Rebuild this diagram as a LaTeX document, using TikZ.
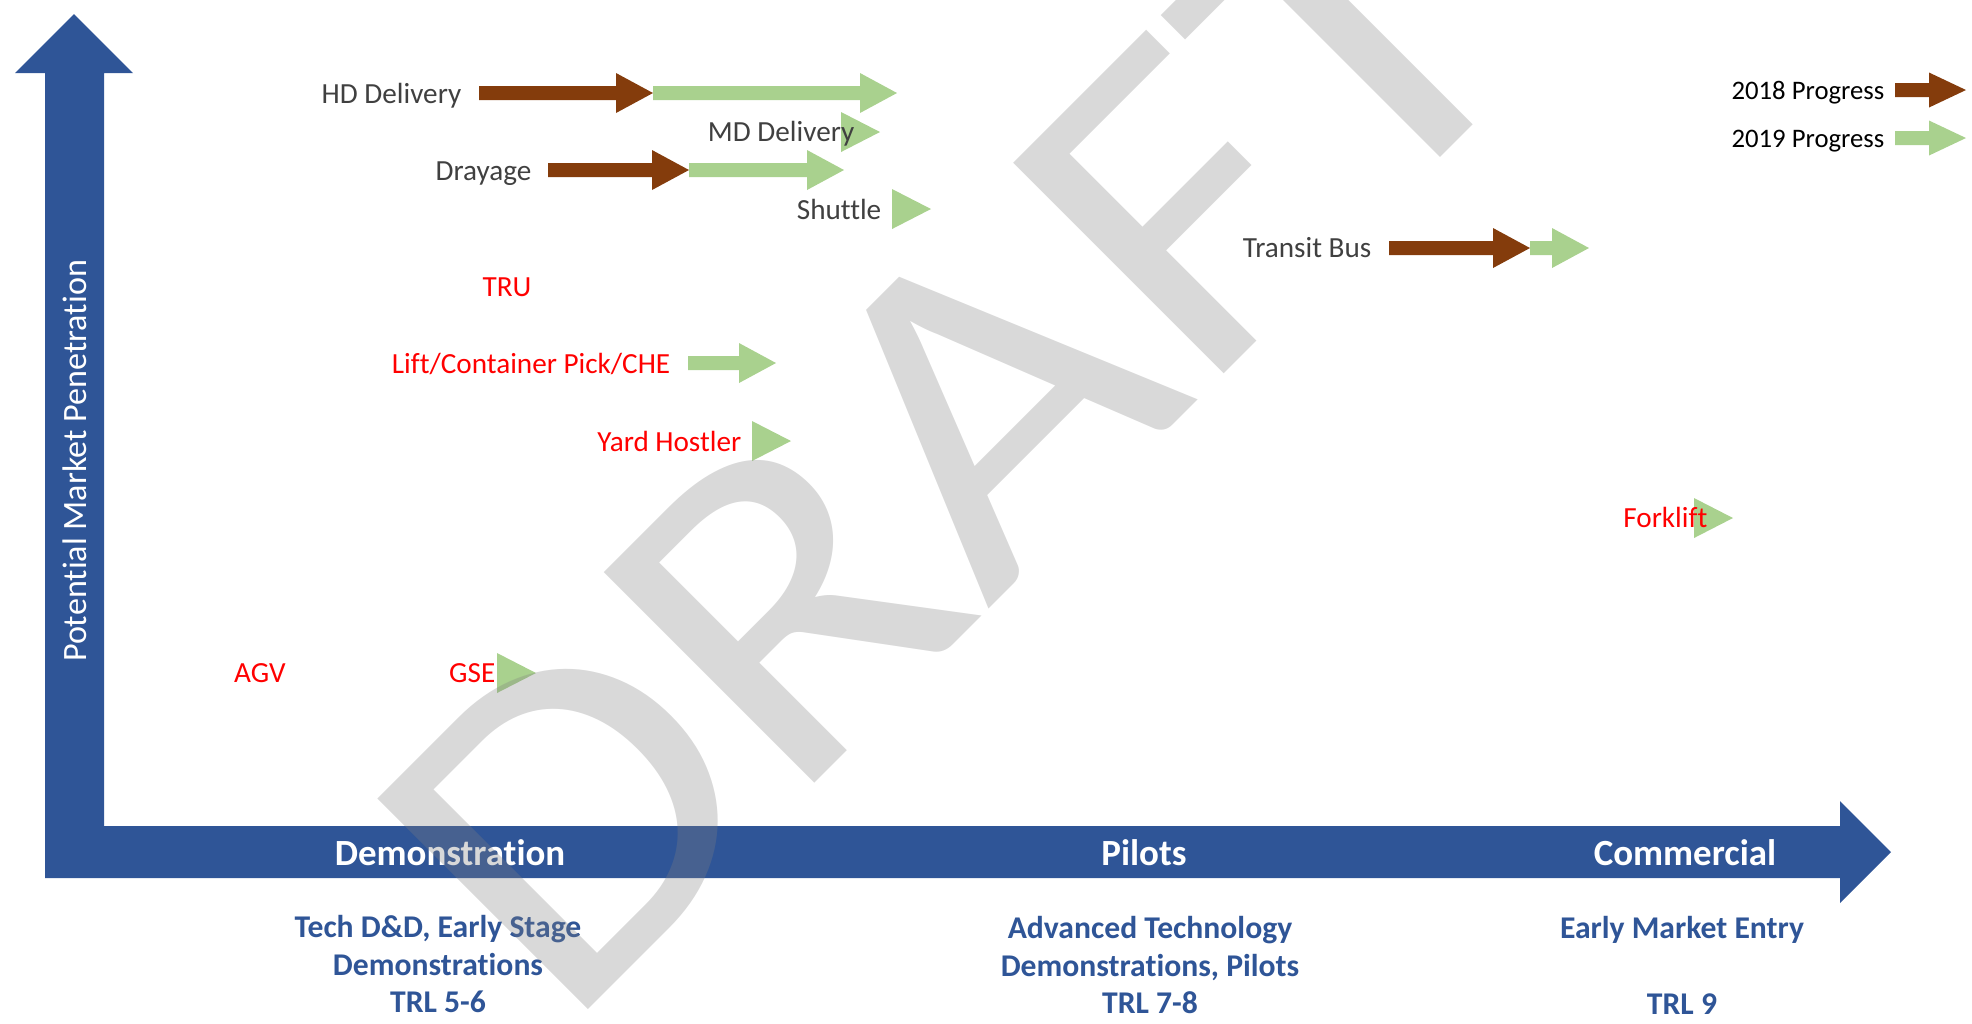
\documentclass[tikz,border=0pt]{standalone}
\usepackage{fontspec}
\setmainfont{Carlito}[Ligatures={NoCommon,NoRequired,NoContextual},Contextuals=NoAlternate]
\definecolor{axisblue}{RGB}{47,85,151}
\definecolor{arrbrown}{RGB}{132,60,12}
\definecolor{arrgreen}{RGB}{169,209,142}
\definecolor{labgray}{RGB}{64,64,64}
% t e i senza legatura
\newcommand{\tnoi}{t\kern0pt i}
% freccia piena: semi-altezza testa, colore, coda, punta, y
\newcommand{\progarrow}[5][20]{%
  \fill[#2] (#3,#5-7) -- (#4-37,#5-7) -- (#4-37,#5-#1) -- (#4,#5)
    -- (#4-37,#5+#1) -- (#4-37,#5+7) -- (#3,#5+7) -- cycle;}
% solo la testa: colore, base, y
\newcommand{\proghead}[3]{%
  \fill[#1] (#2,#3-20) -- (#2+39,#3) -- (#2,#3+20) -- cycle;}
\tikzset{
  lab/.style={font=\fontsize{8.3}{10}\selectfont, text=labgray, inner sep=0pt,
    anchor=east, text height=5.4pt, text depth=0pt},
  redlab/.style={lab, text=red},
  leglab/.style={lab, text=black, font=\fontsize{7.6}{9}\selectfont},
  stage/.style={font=\fontsize{10.5}{12.6}\selectfont\bfseries, text=white, inner sep=0pt},
  stagesub/.style={font=\fontsize{9}{10.8}\selectfont\bfseries, text=axisblue,
    align=center, inner sep=0pt},
}
\begin{document}
\begin{tikzpicture}[x=0.01cm, y=-0.01cm]
      \useasboundingbox (0,0) rectangle (1972,1023);
      %assi
      \fill[axisblue] (45,878) -- (45,73) -- (15,73) -- (74,14) -- (133,73) -- (104,73)
        -- (104,826) -- (1840,826) -- (1840,801) -- (1891,852) -- (1840,903) -- (1840,878) -- cycle;
      \node[rotate=90, text=white, font=\fontsize{9.7}{11.6}\selectfont, inner sep=0pt] (ylab) at (75,461) {Poten\tnoi al Market Penetra\tnoi on};
      \node[stage] (demo) at (450,853) {Demonstra\tnoi on};
      \node[stage] (pilot) at (1144,853) {Pilots};
      \node[stage] (comm) at (1685,853) {Commercial};
      \node[stagesub] (demosub) at (438,964) {Tech D\&D, Early Stage\\Demonstra\tnoi ons\\TRL 5-6};
      \node[stagesub] (pilotsub) at (1150,965) {Advanced Technology\\Demonstra\tnoi ons, Pilots\\TRL 7-8};
      \node[stagesub] (commsub) at (1682,965) {Early Market Entry\\~\\TRL 9};
      %frecce
      \progarrow{arrbrown}{479}{653}{93}
      \progarrow{arrgreen}{653}{897}{93}
      \proghead{arrgreen}{841}{132}
      \progarrow{arrbrown}{548}{689}{170}
      \progarrow{arrgreen}{689}{844}{170}
      \proghead{arrgreen}{892}{209}
      \progarrow{arrbrown}{1389}{1530}{248}
      \progarrow{arrgreen}{1530}{1589}{248}
      \progarrow{arrgreen}{688}{776}{363}
      \proghead{arrgreen}{752}{441}
      \proghead{arrgreen}{497}{673}
      \proghead{arrgreen}{1694}{518}
      %etichette
      \node[lab] (hd) at (462,94) {HD Delivery};
      \node[lab] (md) at (855,132) {MD Delivery};
      \node[lab] (dray) at (532,171) {Drayage};
      \node[lab] (shut) at (882,210) {Shuttle};
      \node[lab] (bus) at (1372,248) {Transit Bus};
      \node[redlab, anchor=center] (tru) at (507,287) {TRU};
      \node[redlab] (lift) at (671,364) {Lift/Container Pick/CHE};
      \node[redlab] (yard) at (742,442) {Yard Hostler};
      \node[redlab] (gse) at (496,673) {GSE};
      \node[redlab, anchor=center] (agv) at (260,673) {AGV};
      \node[redlab] (fork) at (1708,518) {Forklift};
      %legenda
      \progarrow[17.5]{arrbrown}{1895}{1966}{90}
      \progarrow[17.5]{arrgreen}{1895}{1966}{138}
      \node[leglab] (leg18) at (1885,90) {2018 Progress};
      \node[leglab] (leg19) at (1885,138) {2019 Progress};
      %filigrana
      \node[rotate=45, anchor=base, inner sep=0pt, text=black!50, text opacity=0.3,
        font=\fontsize{132}{140}\selectfont] (draft) at (1055,543) {\scalebox{1.116}[1]{DRAFT}};
\end{tikzpicture}
\end{document}
